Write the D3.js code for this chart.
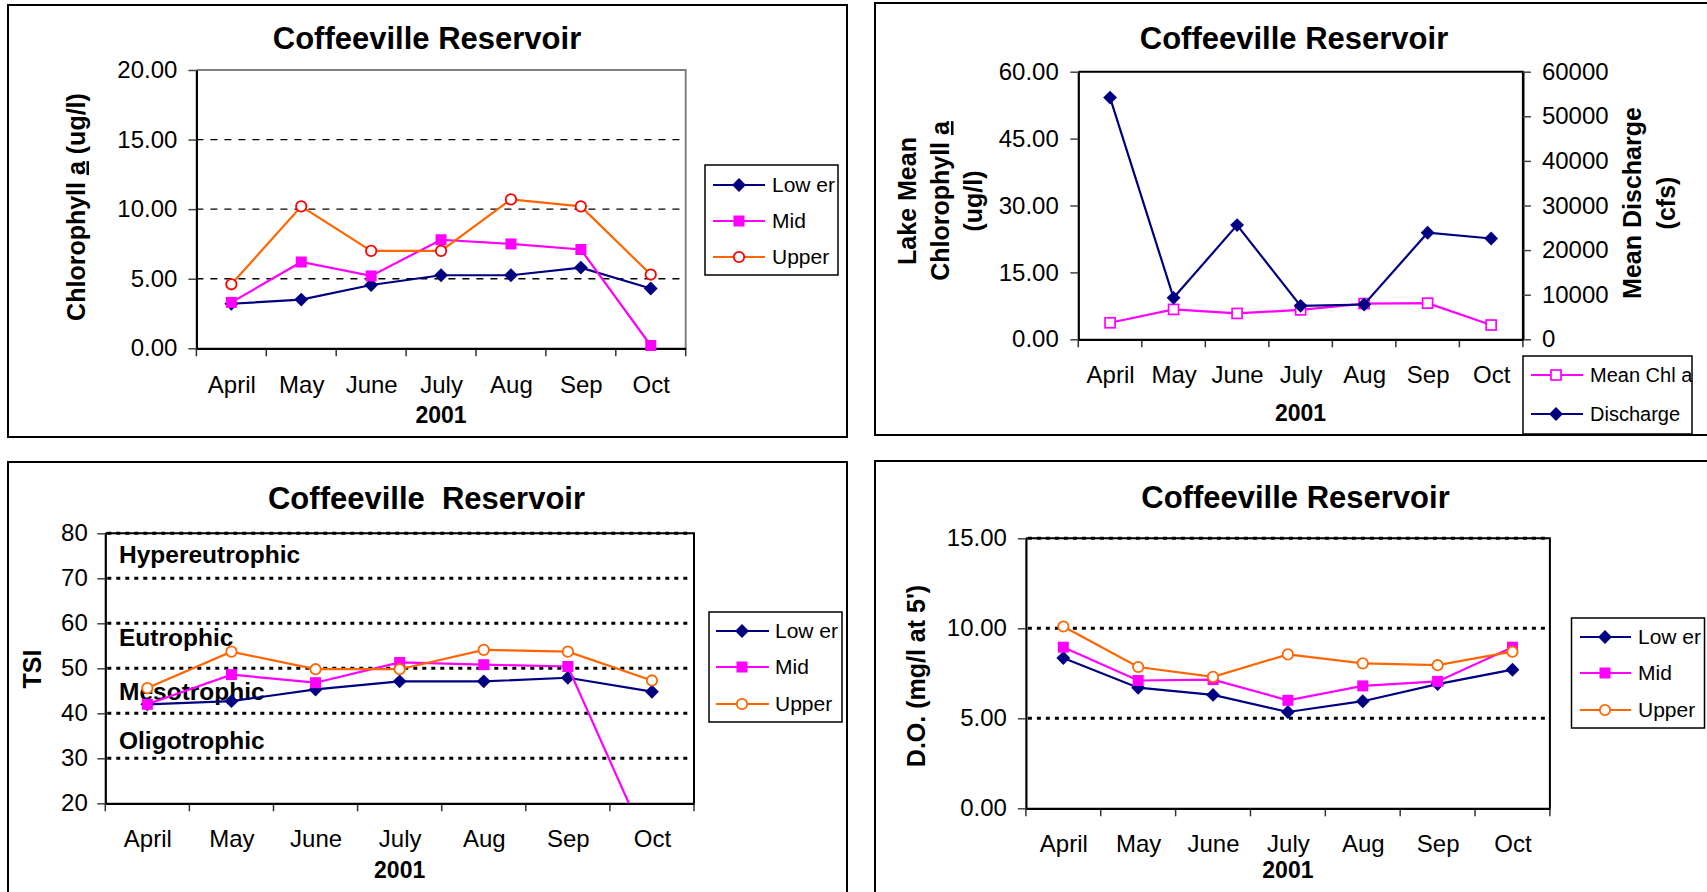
<!DOCTYPE html>
<html>
<head>
<meta charset="utf-8">
<title>Coffeeville Reservoir 2001</title>
<script src="https://cdn.jsdelivr.net/npm/d3@7"></script>
<style>
  html, body { margin: 0; padding: 0; background: #fff; overflow: hidden; }
  svg { display: block; }
</style>
</head>
<body>
<svg id="chart" width="1707" height="892"></svg>
<script>
// ---- data -------------------------------------------------------------
const months = ["April", "May", "June", "July", "Aug", "Sep", "Oct"];
const siteNames = ["Low er", "Mid", "Upper"];

// Chlorophyll a (ug/l) by station
const chlLower = [3.2, 3.5, 4.55, 5.25, 5.25, 5.8, 4.3];
const chlMid   = [3.3, 6.2, 5.2, 7.8, 7.5, 7.1, 0.2];
const chlUpper = [4.6, 10.2, 7.0, 7.0, 10.7, 10.2, 5.3];
const chlTicks = [0, 5, 10, 15, 20];

// Lake mean chlorophyll and mean discharge
const meanChl       = [3.7, 6.7, 5.8, 6.6, 8.0, 8.1, 3.2];
const meanDischarge = [54200, 9300, 25600, 7500, 7800, 23900, 22600];
const meanChlTicks   = [0, 15, 30, 45, 60];
const dischargeTicks = [0, 10000, 20000, 30000, 40000, 50000, 60000];
const meanSeriesNames = ["Mean Chl a", "Discharge"];

// Trophic state index
const tsiLower = [42.0, 42.7, 45.3, 47.1, 47.1, 47.9, 44.8];
const tsiMid   = [42.0, 48.6, 46.8, 51.3, 50.8, 50.4, 8.5];
const tsiUpper = [45.6, 53.7, 49.8, 49.8, 54.1, 53.7, 47.3];
const tsiTicks = [20, 30, 40, 50, 60, 70, 80];
const tsiBounds = [30, 40, 50, 60, 70, 80];
const trophicStates = ["Hypereutrophic", "Eutrophic", "Mesotrophic", "Oligotrophic"];
const trophicLabelLevel = [73.4, 55, 43, 32];

// Dissolved oxygen (mg/l at 5')
const doLower = [8.35, 6.7, 6.3, 5.35, 5.95, 6.9, 7.7];
const doMid   = [8.95, 7.1, 7.15, 6.0, 6.8, 7.05, 8.95];
const doUpper = [10.1, 7.85, 7.3, 8.55, 8.05, 7.95, 8.7];
const doTicks = [0, 5, 10, 15];
const doBounds = [5, 10, 15];

// ---- styling ----------------------------------------------------------
const FONT = '"Liberation Sans", Arial, Helvetica, sans-serif';
const NAVY = "#000080", MAGENTA = "#FF00FF", ORANGE = "#FF6600", RED = "#FF0000";
const fmt2 = d3.format(".2f");

const svg = d3.select("#chart");
svg.append("rect").attr("width", 1707).attr("height", 892).attr("fill", "#fff");
const defs = svg.append("defs");

// ---- helpers ----------------------------------------------------------
function frame(x0, y0, x1, y1) {
  svg.append("rect").attr("x", x0).attr("y", y0)
    .attr("width", x1 - x0).attr("height", y1 - y0)
    .attr("fill", "none").attr("stroke", "#000").attr("stroke-width", 2);
}

function makeX(x0, x1) {
  return {
    band: d3.scaleBand().domain(months).range([x0, x1]),
    point: d3.scalePoint().domain(months).range([x0, x1]).padding(0.5)
  };
}

function clipFor(id, x0, y0, x1, y1) {
  defs.append("clipPath").attr("id", id).append("rect")
    .attr("x", x0).attr("y", y0).attr("width", x1 - x0).attr("height", y1 - y0);
  return `url(#${id})`;
}

function gridLines(g, y, values, x0, x1, width, dash) {
  g.selectAll(null).data(values).join("line")
    .attr("x1", x0).attr("x2", x1)
    .attr("y1", d => y(d)).attr("y2", d => y(d))
    .attr("stroke", "#000").attr("stroke-width", width)
    .attr("stroke-dasharray", dash);
}

function plotEdges(g, x0, y0, x1, y1, color, width) {
  g.append("path").attr("d", `M${x0},${y0}H${x1}V${y1}`)
    .attr("fill", "none").attr("stroke", color).attr("stroke-width", width);
}

function valueAxis(g, scale, xPos, ticks, format, side, pad) {
  const axis = (side === "left" ? d3.axisLeft(scale) : d3.axisRight(scale))
    .tickValues(ticks).tickFormat(format)
    .tickSize(8).tickSizeOuter(0).tickPadding(pad);
  const ax = g.append("g").attr("transform", `translate(${xPos},0)`).call(axis);
  ax.attr("font-family", FONT).attr("font-size", 24);
  ax.select(".domain").attr("stroke", "#000").attr("stroke-width", 2.2);
  ax.selectAll(".tick line").attr("stroke", "#444").attr("stroke-width", 1.5);
  ax.selectAll(".tick text").attr("fill", "#000");
  return ax;
}

function monthAxis(g, x, yBottom, labelBase, yearBase) {
  const [x0, x1] = x.band.range();
  const edges = months.map(m => x.band(m)).concat([x1]);
  g.selectAll(null).data(edges).join("line")
    .attr("x1", d => d).attr("x2", d => d)
    .attr("y1", yBottom).attr("y2", yBottom + 8)
    .attr("stroke", "#333").attr("stroke-width", 1.5);
  const ax = g.append("g").attr("transform", `translate(0,${yBottom})`)
    .call(d3.axisBottom(x.point).tickSize(0).tickSizeOuter(0));
  ax.attr("font-family", FONT).attr("font-size", 24);
  ax.select(".domain").attr("stroke", "#000").attr("stroke-width", 2.2);
  ax.selectAll(".tick text").attr("y", labelBase).attr("dy", null).attr("fill", "#000");
  g.append("text").attr("x", (x0 + x1) / 2).attr("y", yBottom + yearBase)
    .attr("text-anchor", "middle").attr("font-family", FONT)
    .attr("font-weight", "bold").attr("font-size", 23).text("2001");
}

function title(g, text, x, y) {
  g.append("text").attr("x", x).attr("y", y).attr("text-anchor", "middle")
    .attr("font-family", FONT).attr("font-weight", "bold").attr("font-size", 31)
    .style("white-space", "pre").text(text);
}

// rotated axis title; parts = [[text, underline], ...]
function vTitle(g, parts, x, y, size) {
  const t = g.append("text").attr("transform", `translate(${x},${y}) rotate(-90)`)
    .attr("text-anchor", "middle").attr("font-family", FONT)
    .attr("font-weight", "bold").attr("font-size", size)
    .style("white-space", "pre");
  parts.forEach(([s, u]) => {
    const sp = t.append("tspan").text(s);
    if (u) sp.style("text-decoration", "underline");
  });
}

function drawMarker(g, kind, x, y, color) {
  if (kind === "diamond") {
    g.append("path").attr("d", d3.symbol(d3.symbolSquare, 96)())
      .attr("transform", `translate(${x},${y}) rotate(45)`).attr("fill", color);
  } else if (kind === "square") {
    g.append("rect").attr("x", x - 5.5).attr("y", y - 5.5).attr("width", 11).attr("height", 11)
      .attr("fill", color);
  } else if (kind === "circle") {
    g.append("circle").attr("cx", x).attr("cy", y).attr("r", 5.2)
      .attr("fill", "#fff").attr("stroke", color).attr("stroke-width", 1.8);
  } else if (kind === "openSquare") {
    g.append("rect").attr("x", x - 5).attr("y", y - 5).attr("width", 10).attr("height", 10)
      .attr("fill", "#fff").attr("stroke", color).attr("stroke-width", 1.7);
  }
}

function drawSeries(g, x, y, values, lineColor, kind, markColor, clip) {
  const line = d3.line().x((d, i) => x.point(months[i])).y(d => y(d));
  g.append("path").datum(values).attr("d", line)
    .attr("fill", "none").attr("stroke", lineColor).attr("stroke-width", 2.2)
    .attr("clip-path", clip);
  const [lo, hi] = d3.extent(y.domain());
  values.forEach((v, i) => {
    if (v >= lo && v <= hi) drawMarker(g, kind, x.point(months[i]), y(v), markColor);
  });
}

function legend(g, box, entries, lx0, lx1, mx, tx, size) {
  g.append("rect").attr("x", box[0]).attr("y", box[1])
    .attr("width", box[2] - box[0]).attr("height", box[3] - box[1])
    .attr("fill", "#fff").attr("stroke", "#000").attr("stroke-width", 1.5);
  entries.forEach(e => {
    g.append("line").attr("x1", lx0).attr("x2", lx1).attr("y1", e.y).attr("y2", e.y)
      .attr("stroke", e.line).attr("stroke-width", 2.2);
    drawMarker(g, e.kind, mx, e.y, e.mark);
    g.append("text").attr("x", tx).attr("y", e.y + 7)
      .attr("font-family", FONT).attr("font-size", size)
      .style("white-space", "pre").text(e.label);
  });
}

// ---- panel 1: chlorophyll a by station --------------------------------
{
  const g = svg.append("g");
  frame(8, 5, 847, 437);
  const L = 196.4, R = 685.7, T = 70, B = 348.3;
  const x = makeX(L, R);
  const y = d3.scaleLinear().domain([0, 20]).range([B, T]);
  const clip = clipFor("clip1", L, T, R, B);
  gridLines(g, y, [5, 10, 15], L, R, 1.3, "7,7");
  plotEdges(g, L, T, R, B, "#808080", 2);
  valueAxis(g, y, L, chlTicks, fmt2, "left", 11);
  monthAxis(g, x, B, 44.5, 74.5);
  drawSeries(g, x, y, chlLower, NAVY, "diamond", NAVY, clip);
  drawSeries(g, x, y, chlMid, MAGENTA, "square", MAGENTA, clip);
  drawSeries(g, x, y, chlUpper, ORANGE, "circle", RED, clip);
  title(g, "Coffeeville Reservoir", 427, 49);
  vTitle(g, [["Chlorophyll ", false], ["a", true], [" (ug/l)", false]], 84.5, 207, 25);
  legend(g, [705, 165, 838, 275], [
    { label: siteNames[0], y: 185, line: NAVY, kind: "diamond", mark: NAVY },
    { label: siteNames[1], y: 221, line: MAGENTA, kind: "square", mark: MAGENTA },
    { label: siteNames[2], y: 257, line: ORANGE, kind: "circle", mark: RED }
  ], 713, 765, 739, 772, 21);
}

// ---- panel 2: lake mean chlorophyll vs discharge ----------------------
{
  const g = svg.append("g");
  frame(875, 3, 1720, 435);
  const L = 1078.3, R = 1522.9, T = 71.7, B = 339.3;
  const x = makeX(L, R);
  const yL = d3.scaleLinear().domain([0, 60]).range([B, T]);
  const yR = d3.scaleLinear().domain([0, 60000]).range([B, T]);
  const clip = clipFor("clip2", L, T, R, B);
  plotEdges(g, L, T, R, B, "#000", 2);
  valueAxis(g, yL, L, meanChlTicks, fmt2, "left", 11.5);
  valueAxis(g, yR, R, dischargeTicks, d3.format("d"), "right", 11);
  monthAxis(g, x, B, 44, 82);
  drawSeries(g, x, yL, meanChl, MAGENTA, "openSquare", MAGENTA, clip);
  drawSeries(g, x, yR, meanDischarge, NAVY, "diamond", NAVY, clip);
  title(g, "Coffeeville Reservoir", 1294, 49);
  vTitle(g, [["Lake Mean", false]], 916, 201, 25);
  vTitle(g, [["Chlorophyll ", false], ["a", true]], 949, 201, 25);
  vTitle(g, [["(ug/l)", false]], 982, 201, 25);
  vTitle(g, [["Mean Discharge", false]], 1641, 203, 25);
  vTitle(g, [["(cfs)", false]], 1675, 203, 25);
  legend(g, [1523, 356, 1692, 434], [
    { label: meanSeriesNames[0], y: 375, line: MAGENTA, kind: "openSquare", mark: MAGENTA },
    { label: meanSeriesNames[1], y: 414, line: NAVY, kind: "diamond", mark: NAVY }
  ], 1531, 1583, 1556, 1590, 20);
}

// ---- panel 3: trophic state index -------------------------------------
{
  const g = svg.append("g");
  frame(8, 462, 847, 905);
  const L = 105.3, R = 694, T = 533.3, B = 803.3;
  const x = makeX(L, R);
  const y = d3.scaleLinear().domain([20, 80]).range([B, T]);
  const clip = clipFor("clip3", L, T, R, B);
  plotEdges(g, L, T, R, B, "#000", 2);
  gridLines(g, y, tsiBounds, L + 2, R - 2, 3, "4,5");
  valueAxis(g, y, L, tsiTicks, d3.format("d"), "left", 9.5);
  monthAxis(g, x, B, 44, 75);
  g.selectAll(null).data(trophicStates).join("text")
    .attr("x", 119).attr("y", (d, i) => y(trophicLabelLevel[i]))
    .attr("font-family", FONT).attr("font-weight", "bold").attr("font-size", 24.5)
    .text(d => d);
  drawSeries(g, x, y, tsiLower, NAVY, "diamond", NAVY, clip);
  drawSeries(g, x, y, tsiMid, MAGENTA, "square", MAGENTA, clip);
  drawSeries(g, x, y, tsiUpper, ORANGE, "circle", ORANGE, clip);
  title(g, "Coffeeville  Reservoir", 426.5, 509);
  vTitle(g, [["TSI", false]], 41, 669, 25);
  legend(g, [709, 612, 842, 722], [
    { label: siteNames[0], y: 631, line: NAVY, kind: "diamond", mark: NAVY },
    { label: siteNames[1], y: 667, line: MAGENTA, kind: "square", mark: MAGENTA },
    { label: siteNames[2], y: 704, line: ORANGE, kind: "circle", mark: ORANGE }
  ], 716, 769, 742, 775, 21);
}

// ---- panel 4: dissolved oxygen ----------------------------------------
{
  const g = svg.append("g");
  frame(875, 461, 1720, 905);
  const L = 1025.9, R = 1549.9, T = 538.3, B = 808.3;
  const x = makeX(L, R);
  const y = d3.scaleLinear().domain([0, 15]).range([B, T]);
  const clip = clipFor("clip4", L, T, R, B);
  plotEdges(g, L, T, R, B, "#000", 2);
  gridLines(g, y, doBounds, L + 2, R - 2, 3, "4,5");
  valueAxis(g, y, L, doTicks, fmt2, "left", 11);
  monthAxis(g, x, B, 44, 70);
  drawSeries(g, x, y, doLower, NAVY, "diamond", NAVY, clip);
  drawSeries(g, x, y, doMid, MAGENTA, "square", MAGENTA, clip);
  drawSeries(g, x, y, doUpper, ORANGE, "circle", ORANGE, clip);
  title(g, "Coffeeville Reservoir", 1295.5, 508);
  vTitle(g, [["D.O. (mg/l at 5')", false]], 925, 676, 25);
  legend(g, [1571.5, 618, 1704.5, 728], [
    { label: siteNames[0], y: 637, line: NAVY, kind: "diamond", mark: NAVY },
    { label: siteNames[1], y: 673, line: MAGENTA, kind: "square", mark: MAGENTA },
    { label: siteNames[2], y: 710, line: ORANGE, kind: "circle", mark: ORANGE }
  ], 1580, 1631, 1605, 1638, 21);
}
</script>
</body>
</html>
